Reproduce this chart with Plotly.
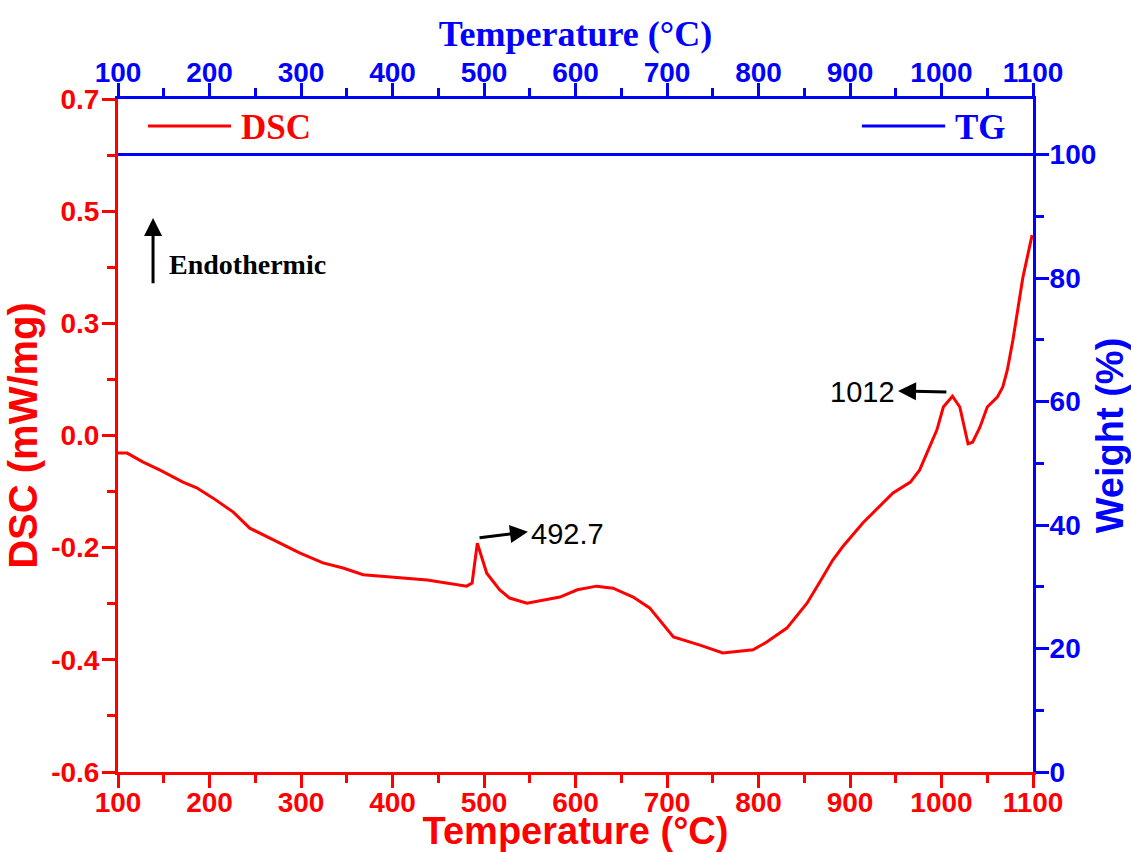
import numpy as np
import plotly.graph_objects as go

# ---------------- data ----------------
temp_dsc = [100, 102, 110, 127, 146, 171, 186, 204, 226, 244, 274, 299, 324, 346, 368,
            400, 438, 481, 487, 492.7, 503, 517, 528, 547, 583, 602, 623, 641, 663, 681,
            707, 736, 761, 794, 809, 831, 853, 867, 881, 892, 914, 947, 966, 976, 995,
            1002, 1012, 1020, 1026, 1029, 1034, 1042, 1050, 1061, 1067, 1072, 1078, 1089, 1099]
dsc = [0.016, 0.016, 0.016, -0.001, -0.017, -0.040, -0.051, -0.071, -0.098, -0.129, -0.156,
       -0.177, -0.196, -0.206, -0.219, -0.223, -0.229, -0.241, -0.235, -0.158, -0.216,
       -0.248, -0.264, -0.274, -0.262, -0.248, -0.241, -0.245, -0.262, -0.283, -0.339,
       -0.355, -0.370, -0.364, -0.349, -0.322, -0.274, -0.233, -0.191, -0.165, -0.119,
       -0.061, -0.040, -0.017, 0.061, 0.105, 0.126, 0.105, 0.061, 0.034, 0.037, 0.066,
       0.105, 0.124, 0.144, 0.177, 0.234, 0.356, 0.437]

temp_tg = [100, 300, 500, 700, 900, 1100]
tg = [100, 100, 100, 100, 100, 100]

dsc_range = [-0.6, 0.7]
dsc_ticktext = ['-0.6', '-0.4', '-0.2', '0.0', '0.3', '0.5', '0.7']
weight_range = [0, 109]
temp_range = [100, 1100]

peak1_T, peak1_label = 492.7, '492.7'
peak2_T, peak2_label = 1012, '1012'

RED = '#ff0000'
BLUE = '#0000ff'
SANS = 'Liberation Sans'
SERIF = 'Liberation Serif'

dsc_tickvals = list(np.linspace(dsc_range[0], dsc_range[1], len(dsc_ticktext)))
dsc_step = (dsc_range[1] - dsc_range[0]) / (len(dsc_ticktext) - 1)

fig = go.Figure()
fig.add_trace(go.Scatter(x=temp_dsc, y=dsc, mode='lines', name='DSC',
                         line=dict(color=RED, width=3), xaxis='x', yaxis='y',
                         showlegend=False))
fig.add_trace(go.Scatter(x=temp_tg, y=tg, mode='lines', name='TG',
                         line=dict(color=BLUE, width=3), xaxis='x2', yaxis='y2',
                         showlegend=False))

def tf(color, size=28, family=SANS):
    return dict(family=family, size=size, color=color, weight='bold')

fig.update_layout(
    width=1131, height=852,
    margin=dict(l=118, r=98, t=99, b=80, autoexpand=False),
    paper_bgcolor='white', plot_bgcolor='white',
    showlegend=False,
    xaxis=dict(range=temp_range, showline=True, linecolor=RED, linewidth=3,
               ticks='outside', ticklen=13, tickwidth=3, tickcolor=RED,
               tick0=100, dtick=100, tickfont=tf(RED), ticklabelstandoff=-10,
               minor=dict(ticks='outside', ticklen=8, tickwidth=3, tickcolor=RED,
                          tick0=100, dtick=50),
               showgrid=False, zeroline=False, anchor='y', automargin=False,
               title=dict(text='Temperature (°C)', font=tf(RED, 38), standoff=7)),
    xaxis2=dict(range=temp_range, overlaying='x', side='top', anchor='y2',
                showline=True, linecolor=BLUE, linewidth=3,
                ticks='outside', ticklen=13, tickwidth=3, tickcolor=BLUE,
                tick0=100, dtick=100, tickfont=tf(BLUE), ticklabelstandoff=-10,
                minor=dict(ticks='outside', ticklen=8, tickwidth=3, tickcolor=BLUE,
                           tick0=100, dtick=50),
                showgrid=False, zeroline=False, automargin=False,
                title=dict(text='Temperature (°C)', font=tf(BLUE, 36, SERIF), standoff=0)),
    yaxis=dict(range=dsc_range, showline=True, linecolor=RED, linewidth=3,
               ticks='outside', ticklen=13, tickwidth=3, tickcolor=RED,
               tickmode='array', tickvals=dsc_tickvals, ticktext=dsc_ticktext,
               tickfont=tf(RED, 28), ticklabelstandoff=-3,
               minor=dict(ticks='outside', ticklen=8, tickwidth=3, tickcolor=RED,
                          tick0=dsc_range[0], dtick=dsc_step / 2),
               showgrid=False, zeroline=False, anchor='x', automargin=False,
               title=dict(text='DSC (mW/mg)', font=tf(RED, 40), standoff=2)),
    yaxis2=dict(range=weight_range, overlaying='y', side='right', anchor='x2',
                showline=True, linecolor=BLUE, linewidth=3,
                ticks='outside', ticklen=13, tickwidth=3, tickcolor=BLUE,
                tick0=0, dtick=20, tickfont=tf(BLUE, 28), ticklabelstandoff=-5,
                minor=dict(ticks='outside', ticklen=8, tickwidth=3, tickcolor=BLUE,
                           tick0=0, dtick=10),
                showgrid=False, zeroline=False, automargin=False,
                title=dict(text='Weight (%)', font=tf(BLUE, 38), standoff=7)),
)

# legend (drawn manually, two separate entries)
fig.add_shape(type='line', xref='paper', yref='paper', x0=0.0328, x1=0.1235,
              y0=0.960, y1=0.960, line=dict(color=RED, width=3))
fig.add_annotation(xref='paper', yref='paper', x=0.1325, y=0.957, text='DSC',
                   showarrow=False, xanchor='left', yanchor='middle',
                   font=tf(RED, 35, SERIF))
fig.add_shape(type='line', xref='paper', yref='paper', x0=0.813, x1=0.904,
              y0=0.960, y1=0.960, line=dict(color=BLUE, width=3))
fig.add_annotation(xref='paper', yref='paper', x=0.913, y=0.957, text='TG',
                   showarrow=False, xanchor='left', yanchor='middle',
                   font=tf(BLUE, 35, SERIF))

# endothermic arrow
fig.add_annotation(xref='x', yref='y', x=138.3, y=0.470, axref='x', ayref='y',
                   ax=138.3, ay=0.341, text='', showarrow=True, arrowhead=2,
                   arrowsize=1.2, arrowwidth=3, arrowcolor='black')
fig.add_annotation(xref='x', yref='y', x=153.6, y=0.381, text='Endothermic',
                   showarrow=False, xanchor='left', yanchor='middle',
                   font=tf('black', 28, SERIF))

# peak annotations
fig.add_annotation(xref='x', yref='y', x=548, y=-0.136, axref='x', ayref='y',
                   ax=peak1_T + 0.8, ay=-0.148, text='', showarrow=True, arrowhead=2,
                   arrowsize=1.2, arrowwidth=3, arrowcolor='black')
fig.add_annotation(xref='x', yref='y', x=549.5, y=-0.140, text=peak1_label,
                   showarrow=False, xanchor='left', yanchor='middle',
                   font=dict(family=SANS, size=29, color='black'))
fig.add_annotation(xref='x', yref='y', x=952.5, y=0.136, axref='x', ayref='y',
                   ax=peak2_T - 5, ay=0.134, text='', showarrow=True, arrowhead=2,
                   arrowsize=1.2, arrowwidth=3, arrowcolor='black')
fig.add_annotation(xref='x', yref='y', x=951.5, y=0.134, text=peak2_label,
                   showarrow=False, xanchor='right', yanchor='middle',
                   font=dict(family=SANS, size=29, color='black'))

fig.write_html('out.html')
